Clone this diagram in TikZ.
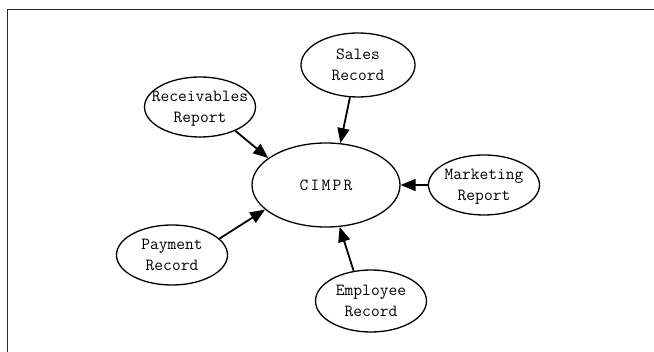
\documentclass[tikz,border=0pt]{standalone}
\usepackage{fontspec}
\usepackage{tikz}
\usetikzlibrary{shapes.geometric}
\usetikzlibrary{arrows.meta}

% two lines of text that do not widen the ellipse
\newcommand{\twolines}[2]{\raisebox{-5pt}[0pt][0pt]{\makebox[0pt]{%
    \begin{tabular}{@{}c@{}}#1\\#2\end{tabular}}}}

\begin{document}
\begin{tikzpicture}[x=1pt, y=-1pt,
    rec/.style={ellipse, draw, line width=1.3pt, inner sep=0pt,
        minimum width=111pt, minimum height=60pt,
        font=\ttfamily\fontsize{17}{21.5}\selectfont},
    flow/.style={line width=1.8pt, -{Triangle[length=15pt,width=12pt]}}]
    
    \useasboundingbox (0,0) rectangle (654,352);
    \draw[line width=1.2pt, black!85] (654,9.5) -| (7.5,352);
    
    \node[rec, minimum width=148pt, minimum height=84pt] (CIMPR) at (326,185)
        {C\kern2.2pt I\kern2.2pt M\kern2.2pt P\kern2.2pt R};
    \node[rec, minimum width=114pt, minimum height=64pt] (Sales) at (358,65) {\twolines{Sales}{Record}};
    \node[rec] (Recv) at (200,107) {\twolines{Receivables}{Report}};
    \node[rec] (Mkt) at (484,185) {\twolines{Marketing}{Report}};
    \node[rec] (Pay) at (172,255) {\twolines{Payment}{Record}};
    \node[rec, minimum height=62pt] (Emp) at (371,301) {\twolines{Employee}{Record}};
    
    \draw[flow] (Sales.-104) -- (CIMPR.71);
    \draw[flow] (Recv.-34) -- (CIMPR.155);
    \draw[flow] (Mkt.180) -- (CIMPR.0);
    \draw[flow] (Pay.19) -- (CIMPR.202);
    \draw[flow] (Emp.120) -- (CIMPR.-72);
    
\end{tikzpicture}
\end{document}
